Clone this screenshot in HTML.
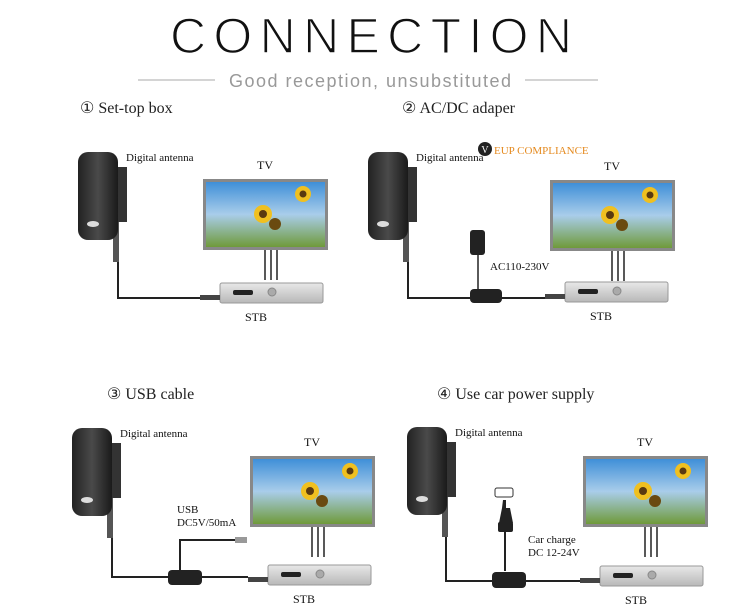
<!DOCTYPE html>
<html><head><meta charset="utf-8"><style>
body{margin:0;background:#fff;width:750px;height:613px;overflow:hidden}
svg{display:block}
</style></head><body>
<svg id="s" width="750" height="613" xmlns="http://www.w3.org/2000/svg" font-family="Liberation Serif, serif">
<defs>
<linearGradient id="sky" x1="0" y1="0" x2="0" y2="1"><stop offset="0" stop-color="#3f8fd8"/><stop offset="0.5" stop-color="#a9cdea"/><stop offset="1" stop-color="#6f9a3a"/></linearGradient>
<linearGradient id="ant" x1="0" y1="0" x2="1" y2="0"><stop offset="0" stop-color="#222"/><stop offset="0.5" stop-color="#4a4a4a"/><stop offset="1" stop-color="#1a1a1a"/></linearGradient>
<linearGradient id="stb" x1="0" y1="0" x2="0" y2="1"><stop offset="0" stop-color="#e8e8e8"/><stop offset="1" stop-color="#b8b8b8"/></linearGradient>
</defs>
<text x="371" y="53" text-anchor="middle" font-family="Liberation Sans, sans-serif" font-size="50" textLength="402" lengthAdjust="spacing" fill="#111" stroke="#fff" stroke-width="1.5" font-weight="normal">CONNECTION</text>
<line x1="138" y1="80" x2="215" y2="80" stroke="#aaa"/>
<line x1="525" y1="80" x2="598" y2="80" stroke="#aaa"/>
<text x="370" y="87" text-anchor="middle" font-family="Liberation Sans, sans-serif" font-size="18" fill="#999" textLength="282" lengthAdjust="spacing">Good reception, unsubstituted</text>
<text x="80" y="113" font-size="16" fill="#222">① Set-top box</text>
<text x="402" y="113" font-size="16" fill="#222">② AC/DC adaper</text>
<text x="107" y="399" font-size="16" fill="#222">③ USB cable</text>
<text x="437" y="399" font-size="16" fill="#222">④ Use car power supply</text>
<circle cx="485" cy="149" r="7" fill="#222"/><text x="485" y="153" text-anchor="middle" font-size="10" fill="#fff">V</text>
<text x="494" y="154" font-size="11" fill="#e58a1f">EUP COMPLIANCE</text>
<g id="g"></g>
</svg>
<script>
var g=document.getElementById('g'),h='';
function ant(x,y){h+=`<rect x="${x+35}" y="${y+70}" width="6" height="40" fill="#555"/><rect x="${x+35}" y="${y+15}" width="14" height="55" fill="#333"/><rect x="${x+36}" y="${y+14}" width="3" height="5" fill="#c22"/><rect x="${x}" y="${y}" width="40" height="88" rx="10" fill="url(#ant)"/><ellipse cx="${x+15}" cy="${y+72}" rx="6" ry="3" fill="#ddd"/><text x="${x+48}" y="${y+9}" font-size="11" fill="#111">Digital antenna</text>`;}
function tv(x,y){h+=`<text x="${x+62}" y="${y-10}" text-anchor="middle" font-size="12" fill="#111">TV</text><rect x="${x}" y="${y}" width="125" height="71" fill="#888"/><rect x="${x+3}" y="${y+3}" width="119" height="65" fill="url(#sky)"/><circle cx="${x+60}" cy="${y+35}" r="9" fill="#f0c020"/><circle cx="${x+60}" cy="${y+35}" r="4" fill="#5a3a10"/><circle cx="${x+100}" cy="${y+15}" r="8" fill="#f0c020"/><circle cx="${x+100}" cy="${y+15}" r="3.5" fill="#5a3a10"/><circle cx="${x+72}" cy="${y+45}" r="6" fill="#6a4a10"/><path d="M${x+62} ${y+71}v30M${x+68} ${y+71}v30M${x+74} ${y+71}v30" stroke="#222" stroke-width="1.5"/>`;}
function stb(x,y){h+=`<rect x="${x}" y="${y}" width="103" height="20" rx="2" fill="url(#stb)" stroke="#999"/><rect x="${x+13}" y="${y+7}" width="20" height="5" rx="2" fill="#222"/><circle cx="${x+52}" cy="${y+9}" r="4" fill="#aaa" stroke="#888"/><rect x="${x-20}" y="${y+12}" width="20" height="5" fill="#444"/><text x="${x+25}" y="${y+38}" font-size="12" fill="#111">STB</text>`;}
ant(78,152);tv(203,179);stb(220,283);
h+=`<path d="M118 262V298H200" stroke="#222" stroke-width="2" fill="none"/>`;
ant(368,152);tv(550,180);stb(565,282);
h+=`<path d="M408 262V298H470M500 298H545" stroke="#222" stroke-width="2" fill="none"/><path d="M478 255V290" stroke="#222" stroke-width="1.5"/><rect x="470" y="230" width="15" height="25" rx="3" fill="#222"/><rect x="470" y="289" width="32" height="14" rx="4" fill="#222"/><text x="490" y="270" font-size="11" fill="#111">AC110-230V</text>`;
ant(72,428);tv(250,456);stb(268,565);
h+=`<path d="M112 538V577H170M200 577H248M180 570V540H235" stroke="#222" stroke-width="2" fill="none"/><rect x="168" y="570" width="34" height="15" rx="4" fill="#222"/><rect x="235" y="537" width="12" height="6" fill="#999"/><text x="177" y="513" font-size="11" fill="#111">USB</text><text x="177" y="526" font-size="11" fill="#111">DC5V/50mA</text>`;
ant(407,427);tv(583,456);stb(600,566);
h+=`<path d="M446 537V581H492M525 581H580M505 530V571" stroke="#222" stroke-width="2" fill="none"/><rect x="492" y="572" width="34" height="16" rx="4" fill="#222"/><rect x="495" y="488" width="18" height="9" rx="2" fill="#fff" stroke="#333"/><path d="M503 500h3v8h4l3 15h-14l3-15z" fill="#222"/><rect x="498" y="522" width="15" height="10" rx="2" fill="#222"/><text x="528" y="543" font-size="11" fill="#111">Car charge</text><text x="528" y="556" font-size="11" fill="#111">DC 12-24V</text>`;
g.innerHTML=h;
</script>
</body></html>
